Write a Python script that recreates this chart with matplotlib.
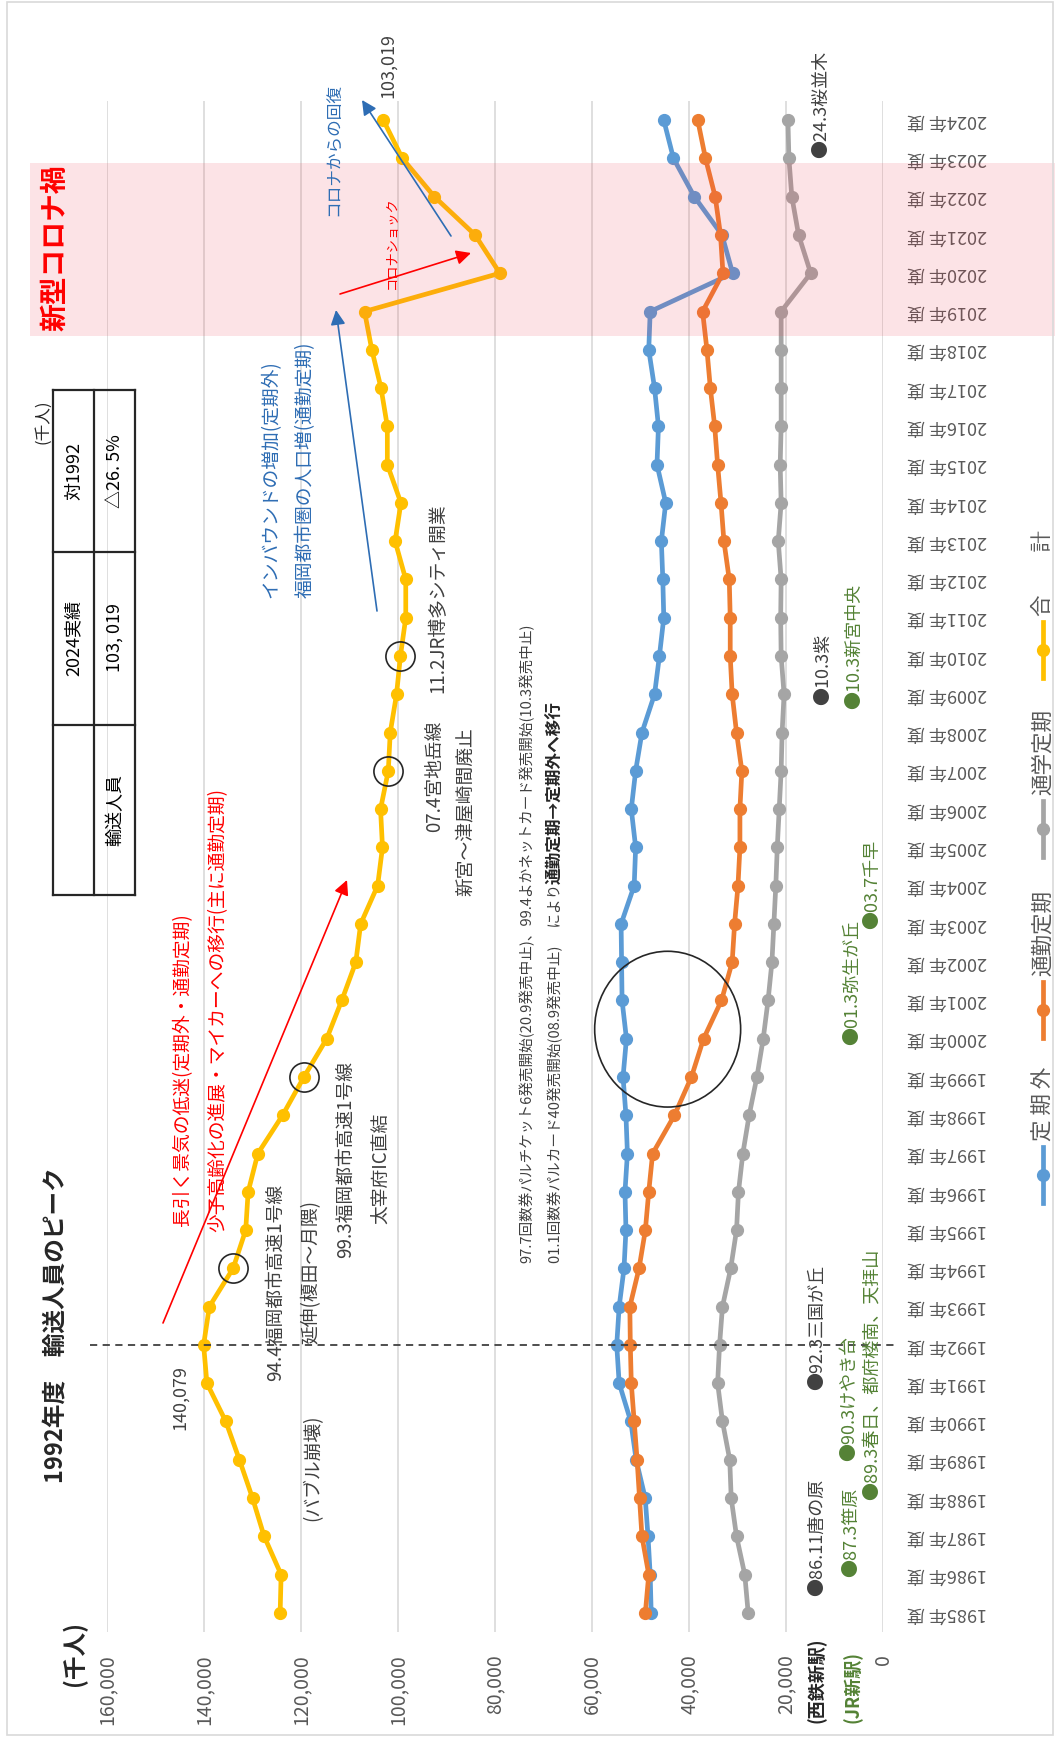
import matplotlib
matplotlib.use('Agg')
import matplotlib.pyplot as plt
from matplotlib.patches import Ellipse, Rectangle
from matplotlib.lines import Line2D

plt.rcParams['font.family'] = ['Noto Sans CJK JP', 'DejaVu Sans']

# 年度別 輸送人員（千人）
years = list(range(1985, 2025))
teikigai = [47800, 48000, 48450, 49030, 50900, 52000, 54400, 54900, 54400, 53400,
            53000, 53200, 52700, 53000, 53600, 52900, 53800, 53900, 54000, 51300,
            51000, 51900, 51000, 49700, 47100, 46100, 45200, 45400, 45700, 44800,
            46600, 46300, 47100, 48300, 48000, 31000, 33200, 38900, 43200, 45200]
tsukin = [49000, 48300, 49700, 50200, 50700, 51300, 51900, 52100, 52200, 50300,
          49000, 48300, 47500, 43000, 39500, 37000, 33300, 31100, 30600, 29900,
          29500, 29500, 29100, 30200, 31100, 31500, 31500, 31700, 32800, 33400,
          34100, 34700, 35600, 36300, 37200, 33000, 33500, 34600, 36600, 38200]
tsugaku = [27800, 28500, 30200, 31300, 31600, 33100, 34100, 33700, 33100, 31400,
           30200, 29800, 28900, 27600, 26000, 24700, 23700, 22900, 22500, 22100,
           21800, 21400, 21000, 20800, 20400, 21000, 21100, 21000, 21600, 21000,
           21200, 21000, 21000, 21000, 21000, 14900, 17400, 18800, 19400, 19600]
total = [124300, 124100, 127600, 130000, 132700, 135500, 139400, 140079, 138900, 134000,
         131400, 130900, 128900, 123800, 119400, 114700, 111600, 108700, 107700, 104200,
         103200, 103600, 102000, 101600, 100300, 99500, 98400, 98400, 100600, 99400,
         102200, 102200, 103500, 105400, 106900, 79000, 84100, 92500, 99100, 103019]

series_names = ['定 期 外', '通勤定期', '通学定期', '合　　計']
series_colors = ['#5B9BD5', '#ED7D31', '#A5A5A5', '#FFC000']
value_ticks = list(range(0, 160001, 20000))
circled_years = [1994, 1999, 2007, 2010]

W, H = 1055, 1737
fig = plt.figure(figsize=(W / 100, H / 100), dpi=100)


def px(x, y):
    return (x / W, 1 - y / H)


# value axis runs right-to-left, years bottom-to-top
X0, X1, Y0, Y1 = 107, 883, 101, 1632
ax = fig.add_axes([X0 / W, 1 - Y1 / H, (X1 - X0) / W, (Y1 - Y0) / H])
ax.set_xlim(160000, 0)
ax.set_ylim(1984.5, 2024.5)

for vals, c, z in zip([teikigai, tsukin, tsugaku, total], series_colors, [3, 3.1, 3.2, 3.3]):
    ax.plot(vals, years, color=c, lw=3.4, marker='o', ms=8.5, zorder=z,
            solid_capstyle='round')

ax.set_xticks(value_ticks)
ax.set_xticklabels([f'{v:,}' for v in value_ticks], rotation=90,
                   fontsize=14, color='#595959')
ax.set_yticks(years)
ax.set_yticklabels([f'{y}年 度' for y in years], rotation=180,
                   fontsize=13, color='#595959')
ax.yaxis.tick_right()
for lbl in ax.get_yticklabels():
    lbl.set_va('center')
ax.tick_params(axis='x', length=0, pad=16)
ax.tick_params(axis='y', length=0, pad=17)
ax.grid(axis='x', color='#D9D9D9', lw=1.2)
ax.set_axisbelow(True)
for s in ax.spines.values():
    s.set_visible(False)

# 1992 peak line
ax.axhline(1992, xmin=(90 - X0) / (X1 - X0), xmax=(895 - X0) / (X1 - X0),
           clip_on=False, color='#404040', lw=1.3, ls=(0, (4, 3)), zorder=4)

# circled events on the total line
ax.plot([total[years.index(y)] for y in circled_years], circled_years, ls='none',
        marker='o', ms=21, mfc='none', mec='#262626', mew=1.2, zorder=4)
ax.add_patch(Ellipse((44400, 2000.25), 30100, 4.07, fill=False,
                     ec='#262626', lw=1.2, zorder=4))

# corona period band
ax.axhspan(2018.35, 2022.88, xmin=(30 - X0) / (X1 - X0), xmax=(1055 - X0) / (X1 - X0),
           clip_on=False, color=(0.94, 0.24, 0.31), alpha=0.14, lw=0, zorder=5)

# outer frame
fig.patches.append(Rectangle(px(7, 1735), (1053 - 7) / W, (1735 - 2) / H,
                             transform=fig.transFigure, fill=False,
                             ec='#D9D9D9', lw=1.2))


def vtext(x, y, s, va='center', size=13.5, color='#404040', **kw):
    return fig.text(*px(x, y), s, rotation=90, ha='center', va=va,
                    fontsize=size, color=color, **kw)


vtext(55, 248, '新型コロナ禍', size=20, color='#FF0000', weight='bold')
vtext(56, 1325, '1992年度　輸送人員のピーク', size=17, color='#262626', weight='bold')
vtext(74, 1653, '(千人)', size=17, color='#262626', weight='bold')
vtext(43, 422, '(千人)', size=12, color='#262626')

# summary table
tx = [53, 94, 135]
ty = [390, 552, 725, 895]
for x in tx:
    fig.add_artist(Line2D([x / W] * 2, [1 - ty[0] / H, 1 - ty[-1] / H], color='#262626', lw=1.6))
for y in ty:
    fig.add_artist(Line2D([tx[0] / W, tx[-1] / W], [1 - y / H] * 2, color='#262626', lw=1.6))
vtext(74, 638, '2024実績', size=13, color='black')
vtext(74, 471, '対1992', size=13, color='black')
vtext(115, 810, '輸送人員', size=13, color='black')
vtext(115, 638, '103, 019', size=13, color='black')
vtext(115, 471, '△26. 5%', size=13, color='black')

# data call-outs
vtext(180, 1398, '140,079', size=13)
vtext(388, 66, '103,019', size=13)

red = '#FF0000'
blue = '#2E6DB4'
green = '#548235'
vtext(183, 1070, '長引く景気の低迷(定期外・通勤定期)', color=red)
vtext(218, 1010, '少子高齢化の進展・マイカーへの移行(主に通勤定期)', color=red)
vtext(313, 1468, '(バブル崩壊)')
vtext(275, 1282, '94.4福岡都市高速1号線')
vtext(311, 1272, '延伸(榎田～月隈)')
vtext(345, 1160, '99.3福岡都市高速1号線')
vtext(382, 1168, '太宰府IC直結')
vtext(435, 776, '07.4宮地岳線')
vtext(465, 812, '新宮～津屋崎間廃止')
vtext(438, 598, '11.2JR博多シティ開業')
vtext(527, 1263, '97.7回数券パルチケット6発売開始(20.9発売中止)、99.4よかネットカード発売開始(10.3発売中止)',
      va='bottom', size=10.5)
t1 = vtext(555, 1263, '01.1回数券パルカード40発売開始(08.9発売中止)　 により', va='bottom', size=10.5)
vtext(271, 598, 'インバウンドの増加(定期外)', va='bottom', color=blue)
vtext(305, 598, '福岡都市圏の人口増(通勤定期)', va='bottom', color=blue)
vtext(335, 216, 'コロナからの回復', va='bottom', size=12, color=blue)
vtext(392, 243, 'コロナショック', size=9.5, color=red)

# new stations
vtext(817, 1723, '(西鉄新駅)', va='bottom', size=13, color='#262626', weight='bold')
vtext(817, 1596, '●86.11唐の原', va='bottom', size=13)
vtext(817, 1390, '●92.3三国が丘', va='bottom', size=13)
vtext(823, 705, '●10.3紫', va='bottom', size=13)
vtext(821, 158, '●24.3桜並木', va='bottom', size=13)
vtext(853, 1723, '(JR新駅)', va='bottom', size=13, color=green, weight='bold')
vtext(851, 1577, '●87.3笹原', va='bottom', size=13, color=green)
vtext(849, 1461, '●90.3けやき台', va='bottom', size=13, color=green)
vtext(872, 1500, '●89.3春日、都府楼南、天拝山', va='bottom', size=13, color=green)
vtext(852, 1045, '●01.3弥生が丘', va='bottom', size=13, color=green)
vtext(872, 929, '●03.7千早', va='bottom', size=13, color=green)
vtext(854, 709, '●10.3新宮中央', va='bottom', size=13, color=green)

# arrows
for (x0, y0), (x1, y1), c in [((163, 1323), (347, 880), red),
                              ((377, 611), (336, 310), blue),
                              ((340, 294), (471, 253), red),
                              ((451, 236), (362, 100), blue)]:
    ax.annotate('', xy=px(x1, y1), xytext=px(x0, y0), xycoords='figure fraction',
                textcoords='figure fraction',
                arrowprops=dict(arrowstyle='-|>', color=c, lw=1.2, mutation_scale=22,
                                shrinkA=0, shrinkB=0), zorder=6)

# legend (rotated)
for name, c, yc in zip(series_names, series_colors, [1175, 1010, 829, 650]):
    fig.add_artist(Line2D([1043 / W] * 2, [1 - (yc + 28) / H, 1 - (yc - 28) / H],
                          color=c, lw=3.4))
    fig.add_artist(Line2D([1043 / W], [1 - yc / H], color=c, marker='o', ms=8.5))
    vtext(1043, yc - 34, name, va='bottom', size=15.5, color='#595959')

# bold tail of the card note, chained after its first part
fig.canvas.draw()
bb = t1.get_window_extent()
fig.text(555 / W, bb.y1 / fig.bbox.height, '通勤定期→定期外へ移行', rotation=90,
         ha='center', va='bottom', fontsize=12, color='#262626', weight='bold')

fig.savefig('out.png', dpi=100)
